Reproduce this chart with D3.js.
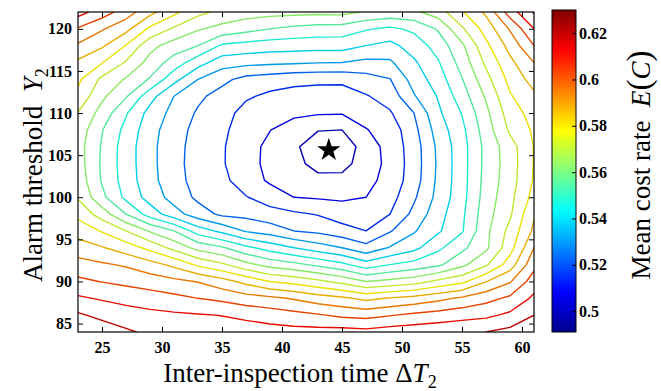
<!DOCTYPE html>
<html>
<head>
<meta charset="utf-8">
<script src="https://cdn.jsdelivr.net/npm/d3@7"></script>
<style>
  body { margin: 0; background: #fff; }
  svg { display: block; }
</style>
</head>
<body>
<div id="chart"></div>
<script>
// ----------------------------------
// DATA
// ----------------------------------

// grid columns: inter-inspection time ΔT2
const deltaT2 = [23, 25, 27, 29, 31, 33, 35, 37, 39, 41, 43, 45, 47, 49, 51, 53, 55, 57, 59, 61];
// grid rows: alarm threshold Y2 (top row first)
const alarmY2 = [122, 120, 118, 116, 114, 112, 110, 108, 106, 104, 102, 100, 98, 96, 94, 92, 90, 88, 86, 84];

// mean cost rate E(C), one row per alarm threshold
const costRate = [
  [0.6142, 0.607, 0.599, 0.5894, 0.581, 0.5734, 0.5686, 0.5666, 0.5658, 0.5654, 0.565, 0.5654, 0.5622, 0.5606, 0.5614, 0.567, 0.5782, 0.5886, 0.607, 0.6198],
  [0.6022, 0.5958, 0.5894, 0.5774, 0.5698, 0.5638, 0.5606, 0.5578, 0.555, 0.553, 0.5518, 0.5514, 0.5478, 0.5454, 0.5486, 0.5558, 0.5698, 0.5822, 0.5958, 0.611],
  [0.5938, 0.5882, 0.5786, 0.5654, 0.5594, 0.555, 0.5458, 0.544, 0.5428, 0.5424, 0.542, 0.5422, 0.539, 0.5366, 0.5426, 0.5502, 0.5614, 0.577, 0.5898, 0.603],
  [0.5854, 0.5794, 0.5702, 0.5602, 0.5514, 0.5422, 0.5346, 0.5334, 0.5326, 0.5321, 0.5313, 0.531, 0.529, 0.5298, 0.5378, 0.5462, 0.5582, 0.5726, 0.585, 0.595],
  [0.5806, 0.5692, 0.5622, 0.5542, 0.5417, 0.531, 0.5251, 0.5204, 0.5188, 0.5172, 0.5167, 0.5166, 0.5197, 0.5227, 0.5343, 0.543, 0.5546, 0.5682, 0.5814, 0.5902],
  [0.577, 0.5646, 0.5558, 0.542, 0.531, 0.5246, 0.52, 0.5161, 0.5134, 0.5122, 0.5116, 0.5116, 0.5144, 0.5183, 0.5303, 0.5396, 0.5512, 0.564, 0.5782, 0.5854],
  [0.5706, 0.56, 0.5478, 0.5362, 0.5284, 0.522, 0.5182, 0.5122, 0.5096, 0.5086, 0.5078, 0.5076, 0.5105, 0.5142, 0.523, 0.5374, 0.5474, 0.561, 0.575, 0.5822],
  [0.5678, 0.5554, 0.5446, 0.5341, 0.5263, 0.5206, 0.5163, 0.5118, 0.5072, 0.5033, 0.4994, 0.499, 0.5066, 0.5104, 0.5206, 0.5346, 0.545, 0.559, 0.5724, 0.5802],
  [0.5662, 0.5542, 0.543, 0.5334, 0.5254, 0.5202, 0.5158, 0.5102, 0.505, 0.5006, 0.4938, 0.4934, 0.503, 0.5098, 0.519, 0.5326, 0.5438, 0.5574, 0.5674, 0.5794],
  [0.5666, 0.5538, 0.543, 0.5334, 0.5254, 0.5198, 0.5158, 0.5098, 0.505, 0.5018, 0.4958, 0.4962, 0.503, 0.5092, 0.5188, 0.5322, 0.5438, 0.5574, 0.567, 0.5794],
  [0.5678, 0.5542, 0.5434, 0.5338, 0.5258, 0.5202, 0.517, 0.511, 0.5058, 0.5026, 0.5016, 0.5014, 0.5046, 0.5098, 0.5192, 0.5326, 0.5438, 0.5578, 0.5674, 0.5798],
  [0.5702, 0.557, 0.545, 0.5358, 0.5278, 0.5214, 0.5186, 0.5154, 0.5112, 0.507, 0.5062, 0.5058, 0.507, 0.5118, 0.5218, 0.5334, 0.5442, 0.5586, 0.5686, 0.5818],
  [0.5768, 0.5672, 0.555, 0.5434, 0.5344, 0.5267, 0.5214, 0.5206, 0.518, 0.5164, 0.5145, 0.511, 0.511, 0.515, 0.5252, 0.5358, 0.5454, 0.5598, 0.5698, 0.5862],
  [0.5836, 0.5784, 0.571, 0.5622, 0.555, 0.5432, 0.5369, 0.5302, 0.5274, 0.523, 0.5212, 0.5182, 0.515, 0.5223, 0.5302, 0.5378, 0.5462, 0.561, 0.5734, 0.5886],
  [0.5908, 0.5876, 0.583, 0.5768, 0.5686, 0.5604, 0.556, 0.549, 0.5436, 0.539, 0.5348, 0.531, 0.5256, 0.5316, 0.5367, 0.5452, 0.5531, 0.5614, 0.5758, 0.595],
  [0.598, 0.5961, 0.594, 0.59, 0.5851, 0.5775, 0.5725, 0.5653, 0.5601, 0.5571, 0.5533, 0.549, 0.5424, 0.547, 0.55, 0.5534, 0.561, 0.5698, 0.583, 0.6006],
  [0.6048, 0.6027, 0.601, 0.5992, 0.597, 0.5946, 0.5902, 0.5847, 0.579, 0.5764, 0.5728, 0.5686, 0.563, 0.5651, 0.5675, 0.5729, 0.5769, 0.5866, 0.5942, 0.607],
  [0.6122, 0.6102, 0.6084, 0.6068, 0.6051, 0.603, 0.6012, 0.5984, 0.5968, 0.5942, 0.5908, 0.5886, 0.585, 0.5876, 0.5898, 0.5928, 0.5964, 0.6004, 0.6046, 0.6126],
  [0.6202, 0.6168, 0.6146, 0.6132, 0.6123, 0.6116, 0.6108, 0.6092, 0.6075, 0.6057, 0.6038, 0.6014, 0.6004, 0.6025, 0.6047, 0.6064, 0.6081, 0.6093, 0.6126, 0.619],
  [0.627, 0.6238, 0.6202, 0.6174, 0.6166, 0.6158, 0.615, 0.615, 0.6142, 0.6138, 0.6138, 0.6142, 0.6134, 0.615, 0.6158, 0.6166, 0.6174, 0.619, 0.6214, 0.6254]
];

// contour levels drawn
const levels = [0.499, 0.507, 0.515, 0.523, 0.531, 0.539, 0.547, 0.555, 0.563, 0.571, 0.579, 0.587, 0.595, 0.603, 0.611, 0.619];

// optimum (star)
const optimum = [43.9, 105.6];

const xTicks = [25, 30, 35, 40, 45, 50, 55, 60];
const yTicks = [85, 90, 95, 100, 105, 110, 115, 120];
const cbTicks = [0.5, 0.52, 0.54, 0.56, 0.58, 0.6, 0.62];
const cbRange = [0.491, 0.63];

// ----------------------------------
// SETUP
// ----------------------------------

const width = 661, height = 391;
const plot = {left: 78, top: 12, right: 534, bottom: 332};
const bar = {left: 552, top: 10, width: 24, bottom: 332};
const serif = "'Liberation Serif', 'Times New Roman', serif";

const svg = d3.select('#chart')
  .append('svg')
  .attr('width', width)
  .attr('height', height);

const x = d3.scaleLinear().domain([23, 61]).range([plot.left, plot.right]);
const y = d3.scaleLinear().domain([84, 122]).range([plot.bottom, plot.top]);

// MATLAB style jet colour map
const jet = d3.scaleLinear()
  .domain([0, 0.125, 0.375, 0.625, 0.875, 1])
  .range(['#00008f', '#0000ff', '#00ffff', '#ffff00', '#ff0000', '#800000'])
  .clamp(true);
const norm = d3.scaleLinear().domain(cbRange).clamp(true);
// thin contour lines read a little darker than the colour bar
const colorOf = v => d3.color(jet(norm(v))).darker(0.25).formatHex();

const defs = svg.append('defs');
defs.append('clipPath').attr('id', 'plot-clip')
  .append('rect')
  .attr('x', plot.left).attr('y', plot.top)
  .attr('width', plot.right - plot.left)
  .attr('height', plot.bottom - plot.top);

// ----------------------------------
// CONTOURS
// ----------------------------------

const nx = deltaT2.length, ny = alarmY2.length;
const gridX = d3.scaleLinear().domain([0.5, nx - 0.5]).range([deltaT2[0], deltaT2[nx - 1]]);
const gridY = d3.scaleLinear().domain([0.5, ny - 0.5]).range([alarmY2[0], alarmY2[ny - 1]]);

const contours = d3.contours()
  .size([nx, ny])
  .thresholds(levels)(costRate.flat());

const toScreen = d3.geoTransform({
  point: function(px, py) {
    this.stream.point(x(gridX(px)), y(gridY(py)));
  }
});
const path = d3.geoPath(toScreen);

svg.append('g')
  .attr('clip-path', 'url(#plot-clip)')
  .selectAll('path')
  .data(contours)
  .enter()
  .append('path')
    .attr('d', path)
    .attr('fill', 'none')
    .attr('stroke', d => colorOf(d.value))
    .attr('stroke-width', 1.4)
    .attr('stroke-linejoin', 'round');

// optimum marker
svg.append('path')
  .attr('d', d3.symbol().type(d3.symbolStar).size(170))
  .attr('transform', `translate(${x(optimum[0])},${y(optimum[1])})`)
  .attr('fill', '#000');

// ----------------------------------
// AXES
// ----------------------------------

function styleAxis(g) {
  g.select('.domain').remove();
  g.selectAll('line').attr('stroke', '#000');
  g.selectAll('text')
    .attr('fill', '#000')
    .style('font-family', serif)
    .style('font-size', '16px')
    .style('font-weight', 'bold');
}

svg.append('g')
  .attr('transform', `translate(0,${plot.bottom})`)
  .call(d3.axisBottom(x).tickValues(xTicks).tickSizeInner(-5).tickSizeOuter(0).tickPadding(10))
  .call(styleAxis);

svg.append('g')
  .attr('transform', `translate(${plot.left},0)`)
  .call(d3.axisLeft(y).tickValues(yTicks).tickSizeInner(-5).tickSizeOuter(0).tickPadding(6))
  .call(styleAxis);

svg.append('g')
  .attr('transform', `translate(0,${plot.top})`)
  .call(d3.axisTop(x).tickValues(xTicks).tickSizeInner(-5).tickSizeOuter(0).tickFormat(''))
  .call(styleAxis);

svg.append('g')
  .attr('transform', `translate(${plot.right},0)`)
  .call(d3.axisRight(y).tickValues(yTicks).tickSizeInner(-5).tickSizeOuter(0).tickFormat(''))
  .call(styleAxis);

svg.append('rect')
  .attr('x', plot.left).attr('y', plot.top)
  .attr('width', plot.right - plot.left)
  .attr('height', plot.bottom - plot.top)
  .attr('fill', 'none')
  .attr('stroke', '#000')
  .attr('stroke-width', 1.2);

// ----------------------------------
// COLORBAR
// ----------------------------------

const cb = d3.scaleLinear().domain(cbRange).range([bar.bottom, bar.top]);

const grad = defs.append('linearGradient')
  .attr('id', 'jet-grad')
  .attr('x1', 0).attr('y1', 1).attr('x2', 0).attr('y2', 0);
grad.selectAll('stop')
  .data(jet.domain())
  .enter()
  .append('stop')
    .attr('offset', d => d)
    .attr('stop-color', d => jet(d));

svg.append('rect')
  .attr('x', bar.left).attr('y', bar.top)
  .attr('width', bar.width).attr('height', bar.bottom - bar.top)
  .attr('fill', 'url(#jet-grad)')
  .attr('stroke', '#000')
  .attr('stroke-width', 1);

svg.append('g')
  .attr('transform', `translate(${bar.left + bar.width},0)`)
  .call(d3.axisRight(cb).tickValues(cbTicks).tickSizeInner(-4).tickSizeOuter(0).tickPadding(3)
    .tickFormat(d => String(+d.toFixed(2))))
  .call(styleAxis);

// ----------------------------------
// LABELS
// ----------------------------------

const xLabel = svg.append('text')
  .attr('x', 300).attr('y', 382)
  .attr('text-anchor', 'middle')
  .style('font-family', serif)
  .style('font-size', '27px');
xLabel.append('tspan').text('Inter-inspection time Δ');
xLabel.append('tspan').style('font-style', 'italic').text('T');
xLabel.append('tspan').attr('dy', 6).style('font-size', '18px').text('2');

const yLabel = svg.append('text')
  .attr('transform', 'translate(42,175) rotate(-90)')
  .attr('text-anchor', 'middle')
  .style('font-family', serif)
  .style('font-size', '27px')
  .attr('xml:space', 'preserve');
yLabel.append('tspan').text('Alarm threshold  ');
yLabel.append('tspan').style('font-style', 'italic').text('Y');
yLabel.append('tspan').attr('dy', 6).style('font-size', '18px').text('2');

const cLabel = svg.append('text')
  .attr('transform', 'translate(650,165) rotate(-90)')
  .attr('text-anchor', 'middle')
  .style('font-family', serif)
  .style('font-size', '27px')
  .attr('xml:space', 'preserve');
cLabel.append('tspan').text('Mean cost rate  ');
cLabel.append('tspan').style('font-style', 'italic').text('E');
cLabel.append('tspan').style('font-size', '33px').text('(');
cLabel.append('tspan').style('font-style', 'italic').text('C');
cLabel.append('tspan').style('font-size', '33px').text(')');
</script>
</body>
</html>
